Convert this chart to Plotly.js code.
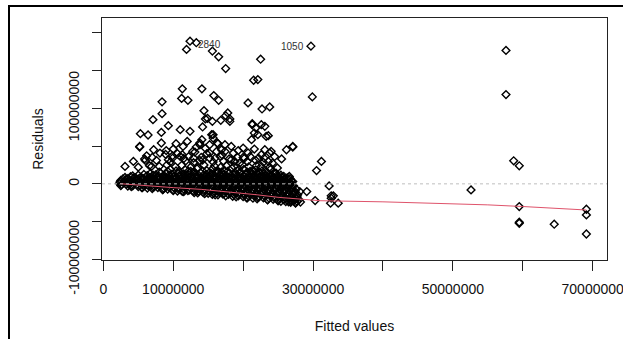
<!DOCTYPE html>
<html>
<head>
<meta charset="utf-8">
<script src="https://cdn.plot.ly/plotly-3.0.1.min.js"></script>
<style>
  html, body { margin:0; padding:0; background:#fff; }
  #frame { position:absolute; left:8px; top:5px; width:615px; height:334px;
           border-left:2px solid #000; border-top:2px solid #000; box-sizing:border-box; }
  #plot { position:absolute; left:0; top:0; width:623px; height:332px; overflow:hidden; }
</style>
</head>
<body>
<div id="frame"></div>
<div id="plot"></div>
<script>
// Values in millions (fitted values on x, residuals on y)
// Sparse, individually visible points
const fittedSparse = [12.4,13.3,11.9,15.6,16.5,17.5,22.5,21.5,22.1,29.7,29.9,57.6,57.6,
  11.3,14.1,11.2,12.1,15.8,16.5,8.4,20.7,22.7,23.8,14.4,14.9,14.6,17.8,17.5,8.4,7.1,9.3,14.2,16.8,18.1,
  5.3,6.4,8.3,11.0,12.4,15.5,15.7,21.3,21.8,23.1,23.6,5.2,27.1,26.2,
  31.2,30.5,32.3,28.1,29.1,30.3,32.6,32.9,32.6,32.5,33.6,27.4,27.6,26.6,27.1,27.1,24.7,25.5,26.4,
  23.6,22.6,23.8,23.1,21.3,22.6,21.6,22.1,21.2,23.3,15.7,15.6,18.1,16.3,17.4,18.3,13.8,14.1,20.0,18.6,
  20.2,21.0,19.5,17.4,18.8,16.7,15.2,22.4,23.3,24.2,
  5.2,8.3,7.2,8.1,4.3,6.0,3.1,6.9,9.3,10.4,11.4,12.0,13.3,13.8,15.2,16.4,9.9,11.0,11.3,12.9,13.8,14.8,16.2,15.2,
  6.2,8.9,10.6,12.2,13.1,17.0,19.2,20.7,22.2,24.5,
  9.0,10.0,12.8,14.6,16.9,19.3,21.6,24.0,
  5.9,7.0,9.9,11.5,14.0,16.0,18.0,20.0,23.0,25.5,
  52.6,58.7,59.5,59.5,59.5,59.5,64.5,69.1,69.1,69.1];
const residSparse = [188.7,186.6,177.7,175.5,168,152.5,164.8,137,137.9,182.1,115,176.4,118,
  125.6,125.6,113,110.5,116.7,110.5,108.4,107,99,101.7,96.8,86.6,85.8,93.8,90.2,92.8,84.9,76.9,75.2,84,85.8,
  66.3,64.6,68,71.6,69.4,65,60.6,78.2,73.9,76,63.7,49.5,49.5,45.1,
  29.6,17.6,-2.7,-10.2,-10.2,-22.1,-15.9,-15.9,-19,-25.6,-25.6,-21.2,-19,9.7,3,48.7,14.2,-5.7,-5.7,
  29.6,38.5,40.7,45.1,79.6,78.2,67.2,65,58.4,62.7,65,82.6,82.6,54,51.7,49.5,51.7,58.4,47.3,40.7,
  34.1,36.2,27.5,42.8,29.6,36.2,40.7,14.2,7.6,27.5,
  48.7,54,45.1,40.7,29.6,30.9,23,23,31.8,53,49.5,56.1,48.7,54,51.7,53,37.1,36.2,38.5,34.1,30.9,39.8,42.8,34.1,
  37,39,40,36,42,38,35,41,34,36,
  44,46,43,47,45,44,46,43,
  33,35,34,33.5,35,34,33,35,34,33,
  -8,30.5,23.9,-30.1,-50.8,-52.1,-53.4,-33.6,-41.1,-66.3];

// Dense band of overlapping points
const fittedBand = [
  9.6,10.4,11.7,12.5,13.4,14.8,15.6,16.5,17.3,18.4,19.2,20.1,21.0,21.8,22.7,23.9,
  8.0,9.2,10.9,12.1,13.0,14.2,15.2,16.1,16.9,17.8,18.8,19.6,20.6,21.4,22.3,23.3,24.4,
  5.8,6.7,7.5,8.2,9.0,9.8,10.7,11.5,12.2,13.0,13.9,14.7,15.5,16.3,17.1,17.9,18.8,19.6,20.4,21.2,22.0,22.9,23.7,24.6,25.4,
  4.2,5.0,6.3,7.1,7.9,8.6,9.4,10.2,11.1,11.9,12.6,13.4,14.3,15.1,15.9,16.7,17.5,18.3,19.2,20.0,20.8,21.6,22.4,23.3,24.1,25.0,25.8,
  3.1,3.9,4.6,5.4,6.2,6.9,7.7,8.5,9.3,10.0,10.8,11.6,12.4,13.1,13.9,14.7,15.4,16.2,17.0,17.8,18.5,19.3,20.1,20.9,21.6,22.4,23.2,24.0,24.7,25.5,26.3,
  2.8,3.5,4.3,5.0,5.8,6.6,7.3,8.1,8.9,9.7,10.4,11.2,12.0,12.8,13.5,14.3,15.1,15.8,16.6,17.4,18.2,18.9,19.7,20.5,21.3,22.0,22.8,23.6,24.4,25.1,25.9,26.7,
  2.5,3.2,4.0,4.7,5.5,6.3,7.0,7.8,8.6,9.3,10.1,10.9,11.7,12.4,13.2,14.0,14.7,15.5,16.3,17.0,17.8,18.6,19.4,20.1,20.9,21.7,22.4,23.2,24.0,24.8,25.5,26.3,
  2.4,3.0,3.8,4.5,5.3,6.1,6.8,7.6,8.4,9.1,9.9,10.7,11.5,12.2,13.0,13.8,14.5,15.3,16.1,16.8,17.6,18.4,19.2,19.9,20.7,21.5,22.2,23.0,23.8,24.6,25.3,26.1,26.9,
  2.3,2.9,3.6,4.4,5.1,5.9,6.6,7.4,8.2,8.9,9.7,10.5,11.3,12.0,12.8,13.6,14.3,15.1,15.9,16.6,17.4,18.2,19.0,19.7,20.5,21.3,22.0,22.8,23.6,24.4,25.1,25.9,26.7,
  2.6,3.3,4.0,4.8,5.5,6.3,7.0,7.8,8.6,9.3,10.1,10.9,11.6,12.4,13.2,13.9,14.7,15.5,16.2,17.0,17.8,18.5,19.3,20.1,20.8,21.6,22.4,23.1,23.9,24.7,25.4,26.2,27.0,
  3.5,4.2,5.0,5.8,6.5,7.3,8.0,8.8,9.6,10.3,11.1,11.9,12.6,13.4,14.2,14.9,15.7,16.5,17.2,18.0,18.8,19.5,20.3,21.1,21.8,22.6,23.4,24.1,24.9,25.7,26.5,27.2,
  5.6,6.3,7.1,7.8,8.6,9.4,10.1,10.9,11.7,12.4,13.2,14.0,14.7,15.5,16.3,17.0,17.8,18.6,19.3,20.1,20.9,21.6,22.4,23.2,23.9,24.7,25.5,26.2,27.0,
  8.5,9.2,10.0,10.8,11.5,12.3,13.1,13.8,14.6,15.4,16.1,16.9,17.7,18.4,19.2,20.0,20.7,21.5,22.3,23.0,23.8,24.6,25.3,26.1,26.9,27.6,
  10.6,11.3,12.1,12.9,13.6,14.4,15.2,15.9,16.7,17.5,18.2,19.0,19.8,20.5,21.3,22.1,22.8,23.6,24.4,25.1,25.9,26.7,27.4,
  13.5,14.3,15.0,15.8,16.6,17.3,18.1,18.9,19.6,20.4,21.2,21.9,22.7,23.5,24.2,25.0,25.8,26.5,27.3,
  15.6,16.4,17.1,17.9,18.7,19.4,20.2,21.0,21.7,22.5,23.3,24.0,24.8,25.6,26.3,27.1,27.8,
  18.5,19.3,20.0,20.8,21.6,22.3,23.1,23.9,24.6,25.4,26.2,26.9,27.7,
  20.6,21.4,22.1,22.9,23.7,24.4,25.2,26.0,26.7,27.5,
  23.5,24.3,25.0,25.8,26.6,27.3,28.0,
  25.4,26.1,26.9,27.7,
  26.8,27.5,28.2,
  2.5,4,5.5,7,8.5,10,11.5,13,14.5,16,17.5,19,20.5,22,23.5,25,26.5,27.5,
  5.0,6.6,8.0,9.1,10.3,11.2,12.6,13.5,14.4,15.9,16.8,17.6,18.7,19.9,20.8,21.9,22.6,23.8,24.9,
  7.6,9.6,11.8,12.9,14.2,15.7,17.2,18.3,20.6,21.8,22.9];
const residBand = [
  19,17,18.5,16.5,20,17.5,19.5,16,18,20.5,17,19,16.5,18.5,17,19,
  15.5,16.5,15,16,15.5,16.5,15,16,15.5,16.5,15,16,15.5,16.5,15,16,14.5,
  12.5,13.5,12,14,13,12.5,14,13,12,13.5,14.5,12.5,13,14,12,13.5,12.5,14,13,12.5,14,13,12,13.5,11.5,
  10.5,11.5,11,11.5,10.5,11,11.5,10.5,11,11.5,10.5,11,11.5,10.5,11,11.5,10.5,11,11.5,10.5,11,11.5,10.5,11,11.5,10.5,10,
  8.5,9.5,8,9,10,8.5,9,9.5,8,9,10,8.5,9,9.5,8,9,10,8.5,9,9.5,8,9,10,8.5,9,9.5,8,9,10,8.5,8,
  6.5,7,7.5,6.5,7,7.5,6.5,7,7.5,6.5,7,7.5,6.5,7,7.5,6.5,7,7.5,6.5,7,7.5,6.5,7,7.5,6.5,7,7.5,6.5,7,7.5,6.5,7,
  4.5,5.5,4,5,6,4.5,5,5.5,4,5,6,4.5,5,5.5,4,5,6,4.5,5,5.5,4,5,6,4.5,5,5.5,4,5,6,4.5,5,5.5,
  2.5,3,3.5,2.5,3,3.5,2.5,3,3.5,2.5,3,3.5,2.5,3,3.5,2.5,3,3.5,2.5,3,3.5,2.5,3,3.5,2.5,3,3.5,2.5,3,3.5,2.5,3,3.5,
  0.5,1.5,0,1,2,0.5,1,1.5,0,1,2,0.5,1,1.5,0,1,2,0.5,1,1.5,0,1,2,0.5,1,1.5,0,1,2,0.5,1,1.5,0,
  -1,-0.5,-1.5,-1,-0.5,-1.5,-1,-0.5,-1.5,-1,-0.5,-1.5,-1,-0.5,-1.5,-1,-0.5,-1.5,-1,-0.5,-1.5,-1,-0.5,-1.5,-1,-0.5,-1.5,-1,-0.5,-1.5,-1,-0.5,-1.5,
  -3,-2.5,-3.5,-3,-2.5,-3.5,-3,-2.5,-3.5,-3,-2.5,-3.5,-3,-2.5,-3.5,-3,-2.5,-3.5,-3,-2.5,-3.5,-3,-2.5,-3.5,-3,-2.5,-3.5,-3,-2.5,-3.5,-3,-2.5,
  -5,-5.5,-4.5,-5,-5.5,-4.5,-5,-5.5,-4.5,-5,-5.5,-4.5,-5,-5.5,-4.5,-5,-5.5,-4.5,-5,-5.5,-4.5,-5,-5.5,-4.5,-5,-5.5,-4.5,-5,-5.5,
  -7.5,-7,-8,-7.5,-7,-8,-7.5,-7,-8,-7.5,-7,-8,-7.5,-7,-8,-7.5,-7,-8,-7.5,-7,-8,-7.5,-7,-8,-7.5,-7,
  -9.5,-10,-9,-9.5,-10,-9,-9.5,-10,-9,-9.5,-10,-9,-9.5,-10,-9,-9.5,-10,-9,-9.5,-10,-9,-9.5,-10,
  -12,-11.5,-12.5,-12,-11.5,-12.5,-12,-11.5,-12.5,-12,-11.5,-12.5,-12,-11.5,-12.5,-12,-11.5,-12.5,-12,
  -14,-14.5,-13.5,-14,-14.5,-13.5,-14,-14.5,-13.5,-14,-14.5,-13.5,-14,-14.5,-13.5,-14,-14.5,
  -16.5,-16,-17,-16.5,-16,-17,-16.5,-16,-17,-16.5,-16,-17,-16.5,
  -18.5,-19,-18,-18.5,-19,-18,-18.5,-19,-18,-18.5,
  -21,-20.5,-21.5,-21,-20.5,-21.5,-21,
  -23,-23.5,-22.5,-23,
  -24.5,-25.5,-24,
  -2.3,-3.6,-5,-6.3,-7.7,-9,-10.4,-11.7,-13,-14.4,-15.8,-17.1,-18.5,-19.8,-21.2,-22.5,-23.9,-24.8,
  22,24,23,25,22.5,24.5,23,21.5,25,23.5,22,24,23,25.5,22.5,24,23,22,21,
  31,29,30.5,28,31.5,29,30,32,29.5,31,28.5];

// Smoothed (lowess) residual trend
const smoothX = [2.4,6,10,14,18,22,25,28,31,40,50,55,60,65,69.1];
const smoothY = [0.2,-2.5,-5,-7.3,-10.5,-14.5,-17.8,-20.3,-22.3,-23.8,-26,-27.8,-30,-32.5,-34.6];

// Identified observations
const idLabels = ['2840','1050'];
const idX = [15.2,27.0];
const idY = [184,182];

// Axis ticks
const xTickVals = [0,10,20,30,40,50,60,70];
const xTickText = ['0','10000000','','30000000','','50000000','','70000000'];
const yTickVals = [-100,-50,0,50,100,150,200];
const yTickText = ['-100000000','','0','','100000000','',''];

const FONT = 'Arial, "Liberation Sans", sans-serif';
const marker = {symbol:'diamond-open', size:6, color:'#000', line:{width:1.4, color:'#000'}};

const traces = [
  {type:'scatter', mode:'markers', x:fittedBand, y:residBand, marker:marker, hoverinfo:'skip'},
  {type:'scatter', mode:'markers', x:fittedSparse, y:residSparse, marker:marker, hoverinfo:'skip'},
  {type:'scatter', mode:'lines', x:smoothX, y:smoothY, line:{color:'#DF536B', width:1}, hoverinfo:'skip'}
];

const annotations = idLabels.map((t,i)=>({
  x:idX[i], y:idY[i], xref:'x', yref:'y', text:t, showarrow:false,
  font:{family:FONT, size:10, color:'#333'}
}));
annotations.push({
  xref:'paper', yref:'paper', x:(12-102)/505, y:(260-1)/242, xanchor:'left', yanchor:'bottom',
  text:'<b>Figure 4: Regression residuals</b>', showarrow:false,
  font:{family:FONT, size:16, color:'#000'}
});

const layout = {
  width:623, height:339,
  margin:{l:102, r:16, t:18, b:79, pad:0},
  paper_bgcolor:'rgba(0,0,0,0)', plot_bgcolor:'rgba(0,0,0,0)',
  showlegend:false,
  font:{family:FONT, size:14, color:'#111'},
  xaxis:{
    range:[-0.19,72.05], tickmode:'array', tickvals:xTickVals, ticktext:xTickText,
    ticks:'outside', ticklen:10, tickwidth:1, tickcolor:'#222',
    ticklabeloverflow:'allow', ticklabelstandoff:6,
    showline:true, mirror:true, linecolor:'#222', linewidth:1,
    showgrid:false, zeroline:false,
    tickfont:{family:FONT, size:14, color:'#111'},
    title:{text:'Fitted values', font:{family:FONT, size:14, color:'#111'}, standoff:25}
  },
  yaxis:{
    range:[-100.7,219.3], tickmode:'array', tickvals:yTickVals, ticktext:yTickText,
    ticks:'outside', ticklen:9, tickwidth:1, tickcolor:'#222', tickangle:-90,
    ticklabeloverflow:'allow', ticklabelstandoff:7,
    showline:true, mirror:true, linecolor:'#222', linewidth:1,
    showgrid:false, zeroline:false,
    tickfont:{family:FONT, size:14, color:'#111'},
    title:{text:'Residuals', font:{family:FONT, size:14, color:'#111'}, standoff:19}
  },
  shapes:[{type:'line', xref:'paper', x0:0, x1:1, yref:'y', y0:0, y1:0,
           line:{color:'#BEBEBE', width:1, dash:'dot'}, layer:'above'}],
  annotations:annotations
};

Plotly.newPlot('plot', traces, layout, {staticPlot:true, displayModeBar:false});
</script>
</body>
</html>
